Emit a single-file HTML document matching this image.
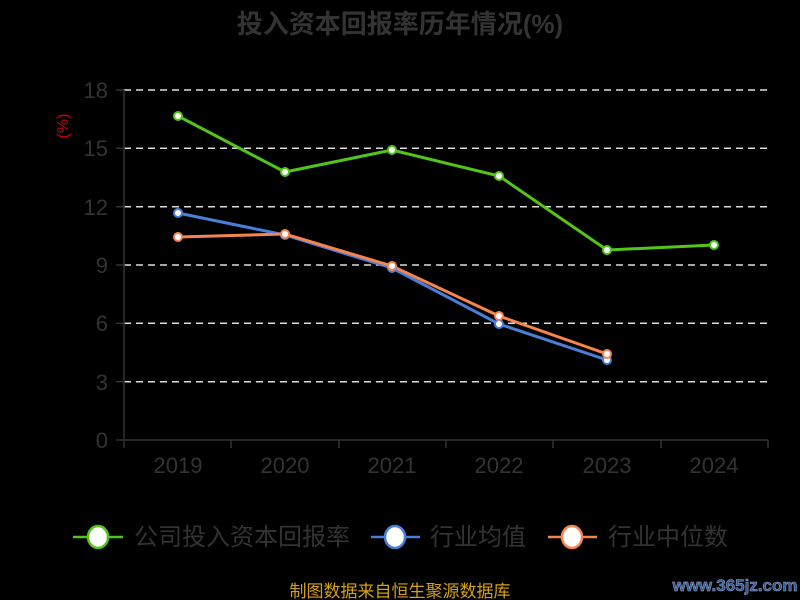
<!DOCTYPE html>
<html><head><meta charset="utf-8"><style>
html,body{margin:0;padding:0;background:#000;}
svg{display:block;font-family:"Liberation Sans","Noto Sans CJK SC",sans-serif;}
</style></head><body>
<svg width="800" height="600" viewBox="0 0 800 600">
<rect width="800" height="600" fill="#000"/>
<text x="400" y="33" text-anchor="middle" font-size="26" font-weight="bold" fill="#333">投入资本回报率历年情况(%)</text>
<text transform="translate(68,126) rotate(-90)" text-anchor="middle" font-size="16" fill="#c00">(%)</text>
<g stroke="#ddd" stroke-width="1.5" stroke-dasharray="7,5">
<line x1="124" x2="768" y1="90" y2="90"/><line x1="124" x2="768" y1="148.3" y2="148.3"/>
<line x1="124" x2="768" y1="206.7" y2="206.7"/><line x1="124" x2="768" y1="265" y2="265"/>
<line x1="124" x2="768" y1="323.3" y2="323.3"/><line x1="124" x2="768" y1="381.7" y2="381.7"/>
</g>
<g stroke="#333" stroke-width="1.5">
<line x1="124" x2="124" y1="90" y2="440"/><line x1="124" x2="768" y1="440" y2="440"/>
<line x1="116" x2="124" y1="90" y2="90"/><line x1="116" x2="124" y1="148.3" y2="148.3"/><line x1="116" x2="124" y1="206.7" y2="206.7"/><line x1="116" x2="124" y1="265" y2="265"/><line x1="116" x2="124" y1="323.3" y2="323.3"/><line x1="116" x2="124" y1="381.7" y2="381.7"/><line x1="116" x2="124" y1="440" y2="440"/>
<line x1="124" x2="124" y1="440" y2="448"/><line x1="231" x2="231" y1="440" y2="448"/><line x1="339" x2="339" y1="440" y2="448"/><line x1="446" x2="446" y1="440" y2="448"/><line x1="553" x2="553" y1="440" y2="448"/><line x1="661" x2="661" y1="440" y2="448"/><line x1="768" x2="768" y1="440" y2="448"/>
</g>
<g font-size="22" fill="#333" text-anchor="end">
<text x="108" y="98">18</text><text x="108" y="156">15</text><text x="108" y="215">12</text><text x="108" y="273">9</text><text x="108" y="331">6</text><text x="108" y="390">3</text><text x="108" y="448">0</text>
</g>
<g font-size="22" fill="#333" text-anchor="middle">
<text x="178" y="473">2019</text><text x="285" y="473">2020</text><text x="392" y="473">2021</text><text x="499" y="473">2022</text><text x="607" y="473">2023</text><text x="714" y="473">2024</text>
</g>
<g fill="none" stroke-width="3">
<polyline stroke="#4a7fd8" points="178,213 285,235 392,268 499,324 607,360"/>
<polyline stroke="#f5854f" points="178,237 285,234 392,266 499,316 607,354"/>
<polyline stroke="#52c41a" points="178,116 285,172 392,150 499,176 607,250 714,245"/>
</g>
<g fill="#fff" stroke-width="2">
<g stroke="#4a7fd8"><circle cx="178" cy="213" r="4"/><circle cx="285" cy="235" r="4"/><circle cx="392" cy="268" r="4"/><circle cx="499" cy="324" r="4"/><circle cx="607" cy="360" r="4"/></g>
<g stroke="#f5854f"><circle cx="178" cy="237" r="4"/><circle cx="285" cy="234" r="4"/><circle cx="392" cy="266" r="4"/><circle cx="499" cy="316" r="4"/><circle cx="607" cy="354" r="4"/></g>
<g stroke="#52c41a"><circle cx="178" cy="116" r="4"/><circle cx="285" cy="172" r="4"/><circle cx="392" cy="150" r="4"/><circle cx="499" cy="176" r="4"/><circle cx="607" cy="250" r="4"/><circle cx="714" cy="245" r="4"/></g>
</g>
<g stroke-width="2.5">
<line x1="73" x2="123" y1="537" y2="537" stroke="#52c41a"/><ellipse cx="98" cy="537" rx="10" ry="11" fill="#fff" stroke="#52c41a"/>
<line x1="371" x2="420" y1="537" y2="537" stroke="#4a7fd8"/><ellipse cx="395" cy="537" rx="10" ry="11" fill="#fff" stroke="#4a7fd8"/>
<line x1="548" x2="597" y1="537" y2="537" stroke="#f5854f"/><ellipse cx="572" cy="537" rx="10" ry="11" fill="#fff" stroke="#f5854f"/>
</g>
<g font-size="24" fill="#333">
<text x="134" y="545">公司投入资本回报率</text>
<text x="430" y="545">行业均值</text>
<text x="608" y="545">行业中位数</text>
</g>
<text x="400" y="597" text-anchor="middle" font-size="17" fill="#d4a017">制图数据来自恒生聚源数据库</text>
<text x="735" y="591" text-anchor="middle" font-size="17" font-weight="bold" fill="#2a5a9a" stroke="#aac" stroke-width="0.5">www.365jz.com</text>
</svg>
</body></html>
